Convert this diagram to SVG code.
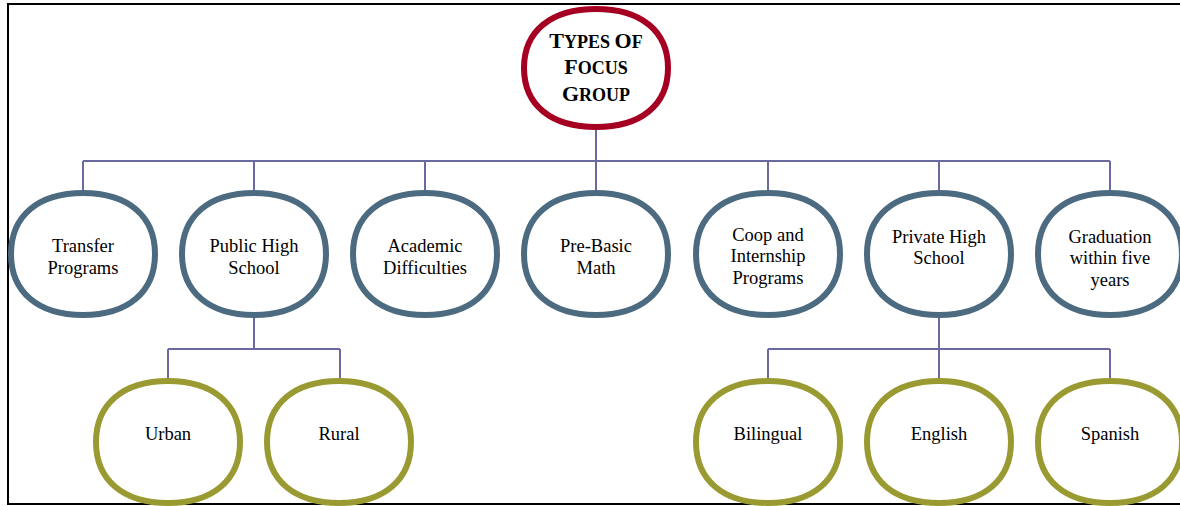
<svg xmlns="http://www.w3.org/2000/svg" width="1180" height="506" viewBox="0 0 1180 506">
<style>
.frame{fill:none;stroke:#000;stroke-width:2}
.conn{fill:none;stroke:#6A6AA0;stroke-width:2}
.root{fill:#fff;stroke:#A50021;stroke-width:6}
.mid{fill:#fff;stroke:#4C6B80;stroke-width:6}
.leaf{fill:#fff;stroke:#9A9A32;stroke-width:6}
text{font-family:"Liberation Serif","Times New Roman",serif;font-size:18.5px;fill:#000;text-anchor:middle}
.title{font-weight:bold;font-size:18px}
</style>
<defs>
<path id="blob" d="M72,0 C72,38 45,61 0,61 C-45,61 -72,38 -72,0 C-72,-38 -45,-61 0,-61 C45,-61 72,-38 72,0 Z"/>
<path id="blobR" d="M72,0 C72,37 45,59 0,59 C-45,59 -72,37 -72,0 C-72,-37 -45,-59 0,-59 C45,-59 72,-37 72,0 Z"/>
</defs>
<rect width="1180" height="506" fill="#fff"/>
<path class="frame" d="M1182,4 H8 V504 H1182"/>
<g id="connectors">
<path class="conn" d="M596,130 V161 M83,161 H1110 M83,161 V190 M254,161 V190 M425,161 V190 M596,161 V190 M768,161 V190 M939,161 V190 M1110,161 V190"/>
<path class="conn" d="M254,318 V349 M168,349 H340 M168,349 V378 M340,349 V378"/>
<path class="conn" d="M939,318 V349 M768,349 H1110 M768,349 V378 M939,349 V378 M1110,349 V378"/>
</g>
<g id="root">
<use href="#blobR" class="root" x="596" y="68"/>
<text class="title" x="596" y="48"><tspan font-size="22">T</tspan>YPES <tspan font-size="22">O</tspan>F</text>
<text class="title" x="596" y="74"><tspan font-size="22">F</tspan>OCUS</text>
<text class="title" x="596" y="101"><tspan font-size="22">G</tspan>ROUP</text>
</g>
<g id="transfer">
<use href="#blob" class="mid" x="83" y="254"/>
<text x="83" y="252">Transfer</text><text x="83" y="274">Programs</text>
</g>
<g id="public">
<use href="#blob" class="mid" x="254" y="254"/>
<text x="254" y="252">Public High</text><text x="254" y="274">School</text>
</g>
<g id="academic">
<use href="#blob" class="mid" x="425" y="254"/>
<text x="425" y="252">Academic</text><text x="425" y="274">Difficulties</text>
</g>
<g id="prebasic">
<use href="#blob" class="mid" x="596" y="254"/>
<text x="596" y="252">Pre-Basic</text><text x="596" y="274">Math</text>
</g>
<g id="coop">
<use href="#blob" class="mid" x="768" y="254"/>
<text x="768" y="241">Coop and</text><text x="768" y="262">Internship</text><text x="768" y="284">Programs</text>
</g>
<g id="private">
<use href="#blob" class="mid" x="939" y="254"/>
<text x="939" y="243">Private High</text><text x="939" y="264">School</text>
</g>
<g id="graduation">
<use href="#blob" class="mid" x="1110" y="254"/>
<text x="1110" y="243">Graduation</text><text x="1110" y="264">within five</text><text x="1110" y="286">years</text>
</g>
<g id="urban">
<use href="#blob" class="leaf" x="168" y="442"/>
<text x="168" y="440">Urban</text>
</g>
<g id="rural">
<use href="#blob" class="leaf" x="339" y="442"/>
<text x="339" y="440">Rural</text>
</g>
<g id="bilingual">
<use href="#blob" class="leaf" x="768" y="442"/>
<text x="768" y="440">Bilingual</text>
</g>
<g id="english">
<use href="#blob" class="leaf" x="939" y="442"/>
<text x="939" y="440">English</text>
</g>
<g id="spanish">
<use href="#blob" class="leaf" x="1110" y="442"/>
<text x="1110" y="440">Spanish</text>
</g>
</svg>
